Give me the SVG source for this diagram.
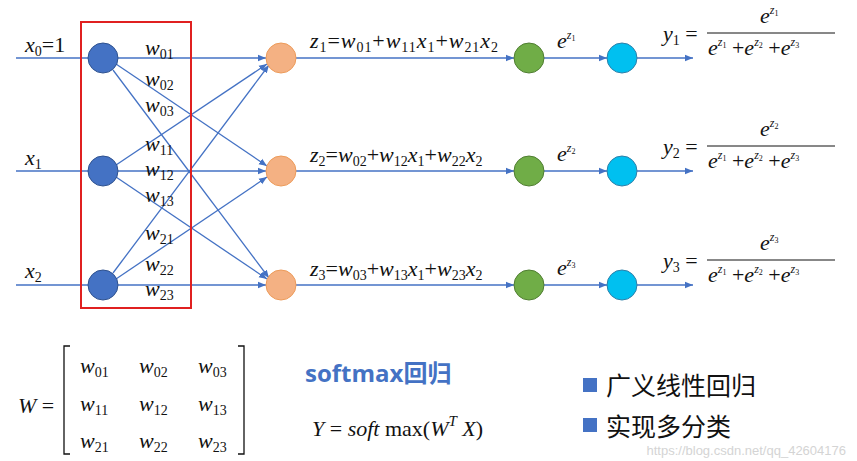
<svg xmlns="http://www.w3.org/2000/svg" width="857" height="461" viewBox="0 0 857 461">
<style>
text{font-family:"Liberation Serif","Times New Roman",serif;font-size:22px;fill:#111}
.i{font-style:italic}
.s{font-size:14px}
.ss{font-size:12px;font-style:italic}
.c{stroke:#4472C4;stroke-width:1.3;fill:none}
.e{stroke:#4472C4;stroke-width:1.3;fill:none;marker-end:url(#a)}
text.cn{font-family:"Noto Sans CJK SC",sans-serif;font-size:25px}
text.sm{font-family:"Open Sans","Noto Sans CJK SC",sans-serif;font-size:24px;font-weight:bold;fill:#4472C4}
text.wm{font-family:"Liberation Sans",sans-serif;font-size:13px;fill:#d4d4d4}
</style>
<defs><marker id="a" viewBox="0 0 10 10" refX="10" refY="5" markerWidth="8" markerHeight="8" orient="auto" markerUnits="userSpaceOnUse"><path d="M0,1 L10,5 L0,9z" fill="#4472C4"/></marker></defs>
<rect width="857" height="461" fill="#fff"/>
<g id="connectors">
<line class="c" x1="16" y1="58" x2="88" y2="58"/>
<line class="c" x1="16" y1="171" x2="88" y2="171"/>
<line class="c" x1="16" y1="285" x2="88" y2="285"/>
<line class="e" x1="118" y1="58" x2="266" y2="58"/>
<line class="e" x1="116" y1="64" x2="267" y2="166"/>
<line class="e" x1="113" y1="70" x2="269" y2="278"/>
<line class="e" x1="116" y1="165" x2="267" y2="64"/>
<line class="e" x1="118" y1="171" x2="266" y2="171"/>
<line class="e" x1="116" y1="177" x2="267" y2="279"/>
<line class="e" x1="113" y1="273" x2="269" y2="65"/>
<line class="e" x1="116" y1="279" x2="267" y2="177"/>
<line class="e" x1="118" y1="285" x2="266" y2="285"/>
<line class="e" x1="296" y1="58" x2="514" y2="58"/>
<line class="e" x1="296" y1="171" x2="514" y2="171"/>
<line class="e" x1="296" y1="285" x2="514" y2="285"/>
<line class="e" x1="544" y1="58" x2="607" y2="58"/>
<line class="e" x1="544" y1="171" x2="607" y2="171"/>
<line class="e" x1="544" y1="285" x2="607" y2="285"/>
<line class="e" x1="637" y1="58" x2="693" y2="58"/>
<line class="e" x1="637" y1="171" x2="693" y2="171"/>
<line class="e" x1="637" y1="285" x2="693" y2="285"/>
</g>
<rect id="box" x="81" y="22" width="110" height="286" fill="none" stroke="#E02020" stroke-width="2"/>
<g id="inputs" fill="#4472C4" stroke="#2F528F" stroke-width="1">
<circle cx="103" cy="58" r="15"/><circle cx="103" cy="171" r="15"/><circle cx="103" cy="285" r="15"/>
</g>
<g id="hidden" fill="#F4B183" stroke="#ED9B5A" stroke-width="1">
<circle cx="281" cy="58" r="15"/><circle cx="281" cy="171" r="15"/><circle cx="281" cy="285" r="15"/>
</g>
<g id="exp" fill="#70AD47" stroke="#507E32" stroke-width="1">
<circle cx="529" cy="58" r="15"/><circle cx="529" cy="171" r="15"/><circle cx="529" cy="285" r="15"/>
</g>
<g id="out" fill="#00C0F0" stroke="#2F7FA8" stroke-width="1">
<circle cx="622" cy="58" r="15"/><circle cx="622" cy="171" r="15"/><circle cx="622" cy="285" r="15"/>
</g>
<g id="labels">
<text x="25" y="52"><tspan class="i">x</tspan><tspan class="s" dy="4">0</tspan><tspan dy="-4">=1</tspan></text>
<text x="25" y="165"><tspan class="i">x</tspan><tspan class="s" dy="4">1</tspan></text>
<text x="25" y="278"><tspan class="i">x</tspan><tspan class="s" dy="4">2</tspan></text>
<text x="145" y="55"><tspan class="i">w</tspan><tspan class="s" dy="4">01</tspan></text>
<text x="145" y="86"><tspan class="i">w</tspan><tspan class="s" dy="4">02</tspan></text>
<text x="145" y="112"><tspan class="i">w</tspan><tspan class="s" dy="4">03</tspan></text>
<text x="145" y="151"><tspan class="i">w</tspan><tspan class="s" dy="4">11</tspan></text>
<text x="145" y="176"><tspan class="i">w</tspan><tspan class="s" dy="4">12</tspan></text>
<text x="145" y="202"><tspan class="i">w</tspan><tspan class="s" dy="4">13</tspan></text>
<text x="145" y="240"><tspan class="i">w</tspan><tspan class="s" dy="4">21</tspan></text>
<text x="145" y="271"><tspan class="i">w</tspan><tspan class="s" dy="4">22</tspan></text>
<text x="145" y="296"><tspan class="i">w</tspan><tspan class="s" dy="4">23</tspan></text>
<text x="310" y="48" textLength="188"><tspan class="i">z</tspan><tspan class="s" dy="4">1</tspan><tspan dy="-4">=</tspan><tspan class="i">w</tspan><tspan class="s" dy="4">01</tspan><tspan dy="-4">+</tspan><tspan class="i">w</tspan><tspan class="s" dy="4">11</tspan><tspan class="i" dy="-4">x</tspan><tspan class="s" dy="4">1</tspan><tspan dy="-4">+</tspan><tspan class="i">w</tspan><tspan class="s" dy="4">21</tspan><tspan class="i" dy="-4">x</tspan><tspan class="s" dy="4">2</tspan></text>
<text x="310" y="162"><tspan class="i">z</tspan><tspan class="s" dy="4">2</tspan><tspan dy="-4">=</tspan><tspan class="i">w</tspan><tspan class="s" dy="4">02</tspan><tspan dy="-4">+</tspan><tspan class="i">w</tspan><tspan class="s" dy="4">12</tspan><tspan class="i" dy="-4">x</tspan><tspan class="s" dy="4">1</tspan><tspan dy="-4">+</tspan><tspan class="i">w</tspan><tspan class="s" dy="4">22</tspan><tspan class="i" dy="-4">x</tspan><tspan class="s" dy="4">2</tspan></text>
<text x="310" y="276"><tspan class="i">z</tspan><tspan class="s" dy="4">3</tspan><tspan dy="-4">=</tspan><tspan class="i">w</tspan><tspan class="s" dy="4">03</tspan><tspan dy="-4">+</tspan><tspan class="i">w</tspan><tspan class="s" dy="4">13</tspan><tspan class="i" dy="-4">x</tspan><tspan class="s" dy="4">1</tspan><tspan dy="-4">+</tspan><tspan class="i">w</tspan><tspan class="s" dy="4">23</tspan><tspan class="i" dy="-4">x</tspan><tspan class="s" dy="4">2</tspan></text>
<text x="557" y="48"><tspan class="i">e</tspan><tspan class="ss" dy="-9">z</tspan><tspan font-size="8" dy="2">1</tspan></text>
<text x="557" y="161"><tspan class="i">e</tspan><tspan class="ss" dy="-9">z</tspan><tspan font-size="8" dy="2">2</tspan></text>
<text x="557" y="275"><tspan class="i">e</tspan><tspan class="ss" dy="-9">z</tspan><tspan font-size="8" dy="2">3</tspan></text>
<g id="y1"><text x="663" y="41"><tspan class="i">y</tspan><tspan class="s" dy="4">1</tspan><tspan dy="-4"> =</tspan></text><text x="760" y="23"><tspan class="i">e</tspan><tspan class="ss" dy="-9">z</tspan><tspan font-size="8" dy="2">1</tspan></text><line x1="707" y1="33" x2="835" y2="33" stroke="#111" stroke-width="1"/><text x="708" y="55"><tspan class="i">e</tspan><tspan class="ss" dy="-9">z</tspan><tspan font-size="8" dy="2">1</tspan><tspan dy="7"> +</tspan><tspan class="i">e</tspan><tspan class="ss" dy="-9">z</tspan><tspan font-size="8" dy="2">2</tspan><tspan dy="7"> +</tspan><tspan class="i">e</tspan><tspan class="ss" dy="-9">z</tspan><tspan font-size="8" dy="2">3</tspan></text></g>
<g id="y2"><text x="663" y="154"><tspan class="i">y</tspan><tspan class="s" dy="4">2</tspan><tspan dy="-4"> =</tspan></text><text x="760" y="136"><tspan class="i">e</tspan><tspan class="ss" dy="-9">z</tspan><tspan font-size="8" dy="2">2</tspan></text><line x1="707" y1="146" x2="835" y2="146" stroke="#111" stroke-width="1"/><text x="708" y="168"><tspan class="i">e</tspan><tspan class="ss" dy="-9">z</tspan><tspan font-size="8" dy="2">1</tspan><tspan dy="7"> +</tspan><tspan class="i">e</tspan><tspan class="ss" dy="-9">z</tspan><tspan font-size="8" dy="2">2</tspan><tspan dy="7"> +</tspan><tspan class="i">e</tspan><tspan class="ss" dy="-9">z</tspan><tspan font-size="8" dy="2">3</tspan></text></g>
<g id="y3"><text x="663" y="268"><tspan class="i">y</tspan><tspan class="s" dy="4">3</tspan><tspan dy="-4"> =</tspan></text><text x="760" y="250"><tspan class="i">e</tspan><tspan class="ss" dy="-9">z</tspan><tspan font-size="8" dy="2">3</tspan></text><line x1="707" y1="260" x2="835" y2="260" stroke="#111" stroke-width="1"/><text x="708" y="282"><tspan class="i">e</tspan><tspan class="ss" dy="-9">z</tspan><tspan font-size="8" dy="2">1</tspan><tspan dy="7"> +</tspan><tspan class="i">e</tspan><tspan class="ss" dy="-9">z</tspan><tspan font-size="8" dy="2">2</tspan><tspan dy="7"> +</tspan><tspan class="i">e</tspan><tspan class="ss" dy="-9">z</tspan><tspan font-size="8" dy="2">3</tspan></text></g>
</g>
<g id="matrix">
<text x="18" y="413" font-size="25"><tspan class="i">W</tspan> =</text>
<path d="M70,346 h-6 v108 h6 M238,346 h6 v108 h-6" fill="none" stroke="#111" stroke-width="1.3"/>
<text x="80" y="373" font-size="23"><tspan class="i">w</tspan><tspan class="s" dy="4">01</tspan></text><text x="139" y="373" font-size="23"><tspan class="i">w</tspan><tspan class="s" dy="4">02</tspan></text><text x="198" y="373" font-size="23"><tspan class="i">w</tspan><tspan class="s" dy="4">03</tspan></text>
<text x="80" y="411" font-size="23"><tspan class="i">w</tspan><tspan class="s" dy="4">11</tspan></text><text x="139" y="411" font-size="23"><tspan class="i">w</tspan><tspan class="s" dy="4">12</tspan></text><text x="198" y="411" font-size="23"><tspan class="i">w</tspan><tspan class="s" dy="4">13</tspan></text>
<text x="80" y="448" font-size="23"><tspan class="i">w</tspan><tspan class="s" dy="4">21</tspan></text><text x="139" y="448" font-size="23"><tspan class="i">w</tspan><tspan class="s" dy="4">22</tspan></text><text x="198" y="448" font-size="23"><tspan class="i">w</tspan><tspan class="s" dy="4">23</tspan></text>
</g>
<text x="305" y="382" class="sm">softmax回归</text>
<text x="312" y="436" font-size="26"><tspan class="i">Y</tspan> = <tspan class="i">soft</tspan> max(<tspan class="i">W</tspan><tspan class="i" font-size="15" dy="-10">T</tspan><tspan dy="10"> </tspan><tspan class="i">X</tspan>)</text>
<g id="bullets">
<rect x="583" y="378" width="14" height="14" fill="#4472C4"/>
<text x="606" y="395" class="cn">广义线性回归</text>
<rect x="583" y="418" width="14" height="14" fill="#4472C4"/>
<text x="606" y="436" class="cn">实现多分类</text>
</g>
<text x="846" y="455" text-anchor="end" class="wm">https://blog.csdn.net/qq_42604176</text>
</svg>
